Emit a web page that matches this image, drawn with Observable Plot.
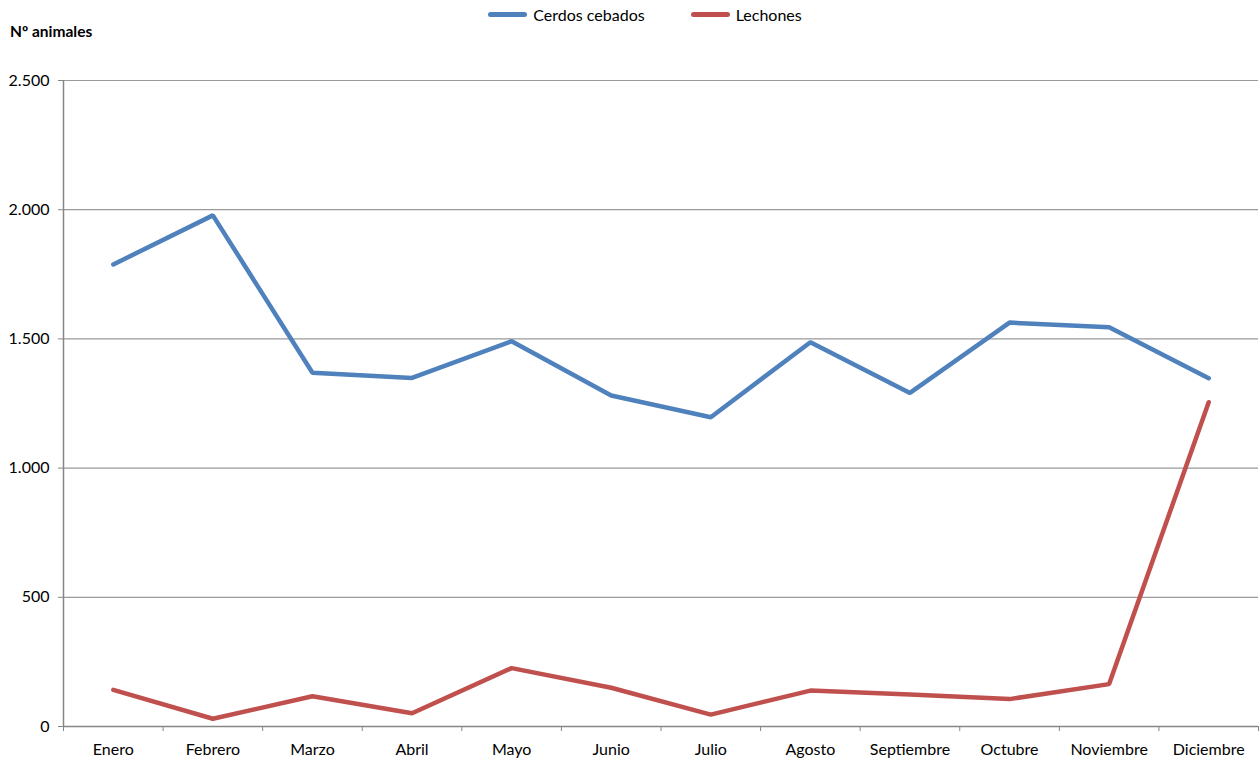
<!DOCTYPE html>
<html>
<head>
<meta charset="utf-8">
<script src="https://cdn.jsdelivr.net/npm/d3@7"></script>
<script src="https://cdn.jsdelivr.net/npm/@observablehq/plot@0.6"></script>
<style>
  html, body { margin: 0; padding: 0; background: #fff; }
  #wrap { position: relative; width: 1260px; height: 765px; font-family: Lato, "Open Sans", sans-serif; color: #000; }
  #legend { position: absolute; top: 5px; left: 0; width: 1260px; display: flex; justify-content: center; gap: 46px; font-size: 16px; padding-left: 30px; box-sizing: border-box; }
  .item { display: flex; align-items: center; gap: 6px; }
  .sw { width: 39px; height: 5px; border-radius: 3px; }
  #ytitle { position: absolute; left: 10px; top: 22px; font-weight: bold; font-size: 15.5px; }
  #chart { position: absolute; left: 0; top: 0; }
</style>
</head>
<body>
<div id="wrap">
  <div id="chart"></div>
  <div id="legend"></div>
  <div id="ytitle">Nº animales</div>
</div>
<script>
const months = ["Enero","Febrero","Marzo","Abril","Mayo","Junio","Julio","Agosto","Septiembre","Octubre","Noviembre","Diciembre"];
const cerdosCebados = [1788, 1978, 1369, 1349, 1491, 1281, 1197, 1487, 1291, 1563, 1545, 1348];
const lechones = [142, 30, 117, 51, 226, 150, 46, 139, 124, 106, 164, 1255];
const seriesNames = ["Cerdos cebados", "Lechones"];
const seriesColors = ["#4F81BD", "#C0504D"];
const yTicks = [0, 500, 1000, 1500, 2000, 2500];

const rows = [];
[cerdosCebados, lechones].forEach((vals, s) => {
  vals.forEach((v, i) => rows.push({series: seriesNames[s], idx: i + 0.5, value: v}));
});

const fmt = d3.formatLocale({decimal: ",", thousands: ".", grouping: [3], currency: ["", "€"]}).format(",");
const boundaries = d3.range(0, months.length + 1);
const centers = months.map((m, i) => i + 0.5);

const plot = Plot.plot({
  width: 1260,
  height: 765,
  marginLeft: 63,
  marginRight: 2,
  marginTop: 80,
  marginBottom: 39,
  style: {fontFamily: "Lato, 'Open Sans', sans-serif", fontSize: "16px", color: "#000", background: "transparent"},
  x: {type: "linear", domain: [0, months.length]},
  y: {domain: [0, 2500]},
  color: {domain: seriesNames, range: seriesColors},
  marks: [
    Plot.ruleY(yTicks.filter(d => d > 0), {stroke: "#9a9a9a", strokeWidth: 1.2}),
    Plot.axisY({ticks: yTicks, tickFormat: fmt, tickSize: 5, tickPadding: 9, stroke: "#868686", label: null, fontSize: 16}),
    Plot.axisX({ticks: boundaries, tickFormat: () => "", tickSize: 5, stroke: "#868686", label: null}),
    Plot.axisX({ticks: centers, tickFormat: d => months[Math.floor(d)], tickSize: 0, tickPadding: 17, label: null, fontSize: 16}),
    Plot.ruleX([0], {stroke: "#868686", strokeWidth: 1.5}),
    Plot.ruleY([0], {stroke: "#868686", strokeWidth: 1.5}),
    Plot.line(rows, {x: "idx", y: "value", z: "series", stroke: "series", strokeWidth: 4.5, strokeLinejoin: "miter", strokeLinecap: "round"})
  ]
});
document.getElementById("chart").appendChild(plot);

const legend = document.getElementById("legend");
seriesNames.forEach((n, i) => {
  const it = document.createElement("div");
  it.className = "item";
  it.innerHTML = `<div class="sw" style="background:${seriesColors[i]}"></div><span>${n}</span>`;
  legend.appendChild(it);
});
</script>
</body>
</html>
